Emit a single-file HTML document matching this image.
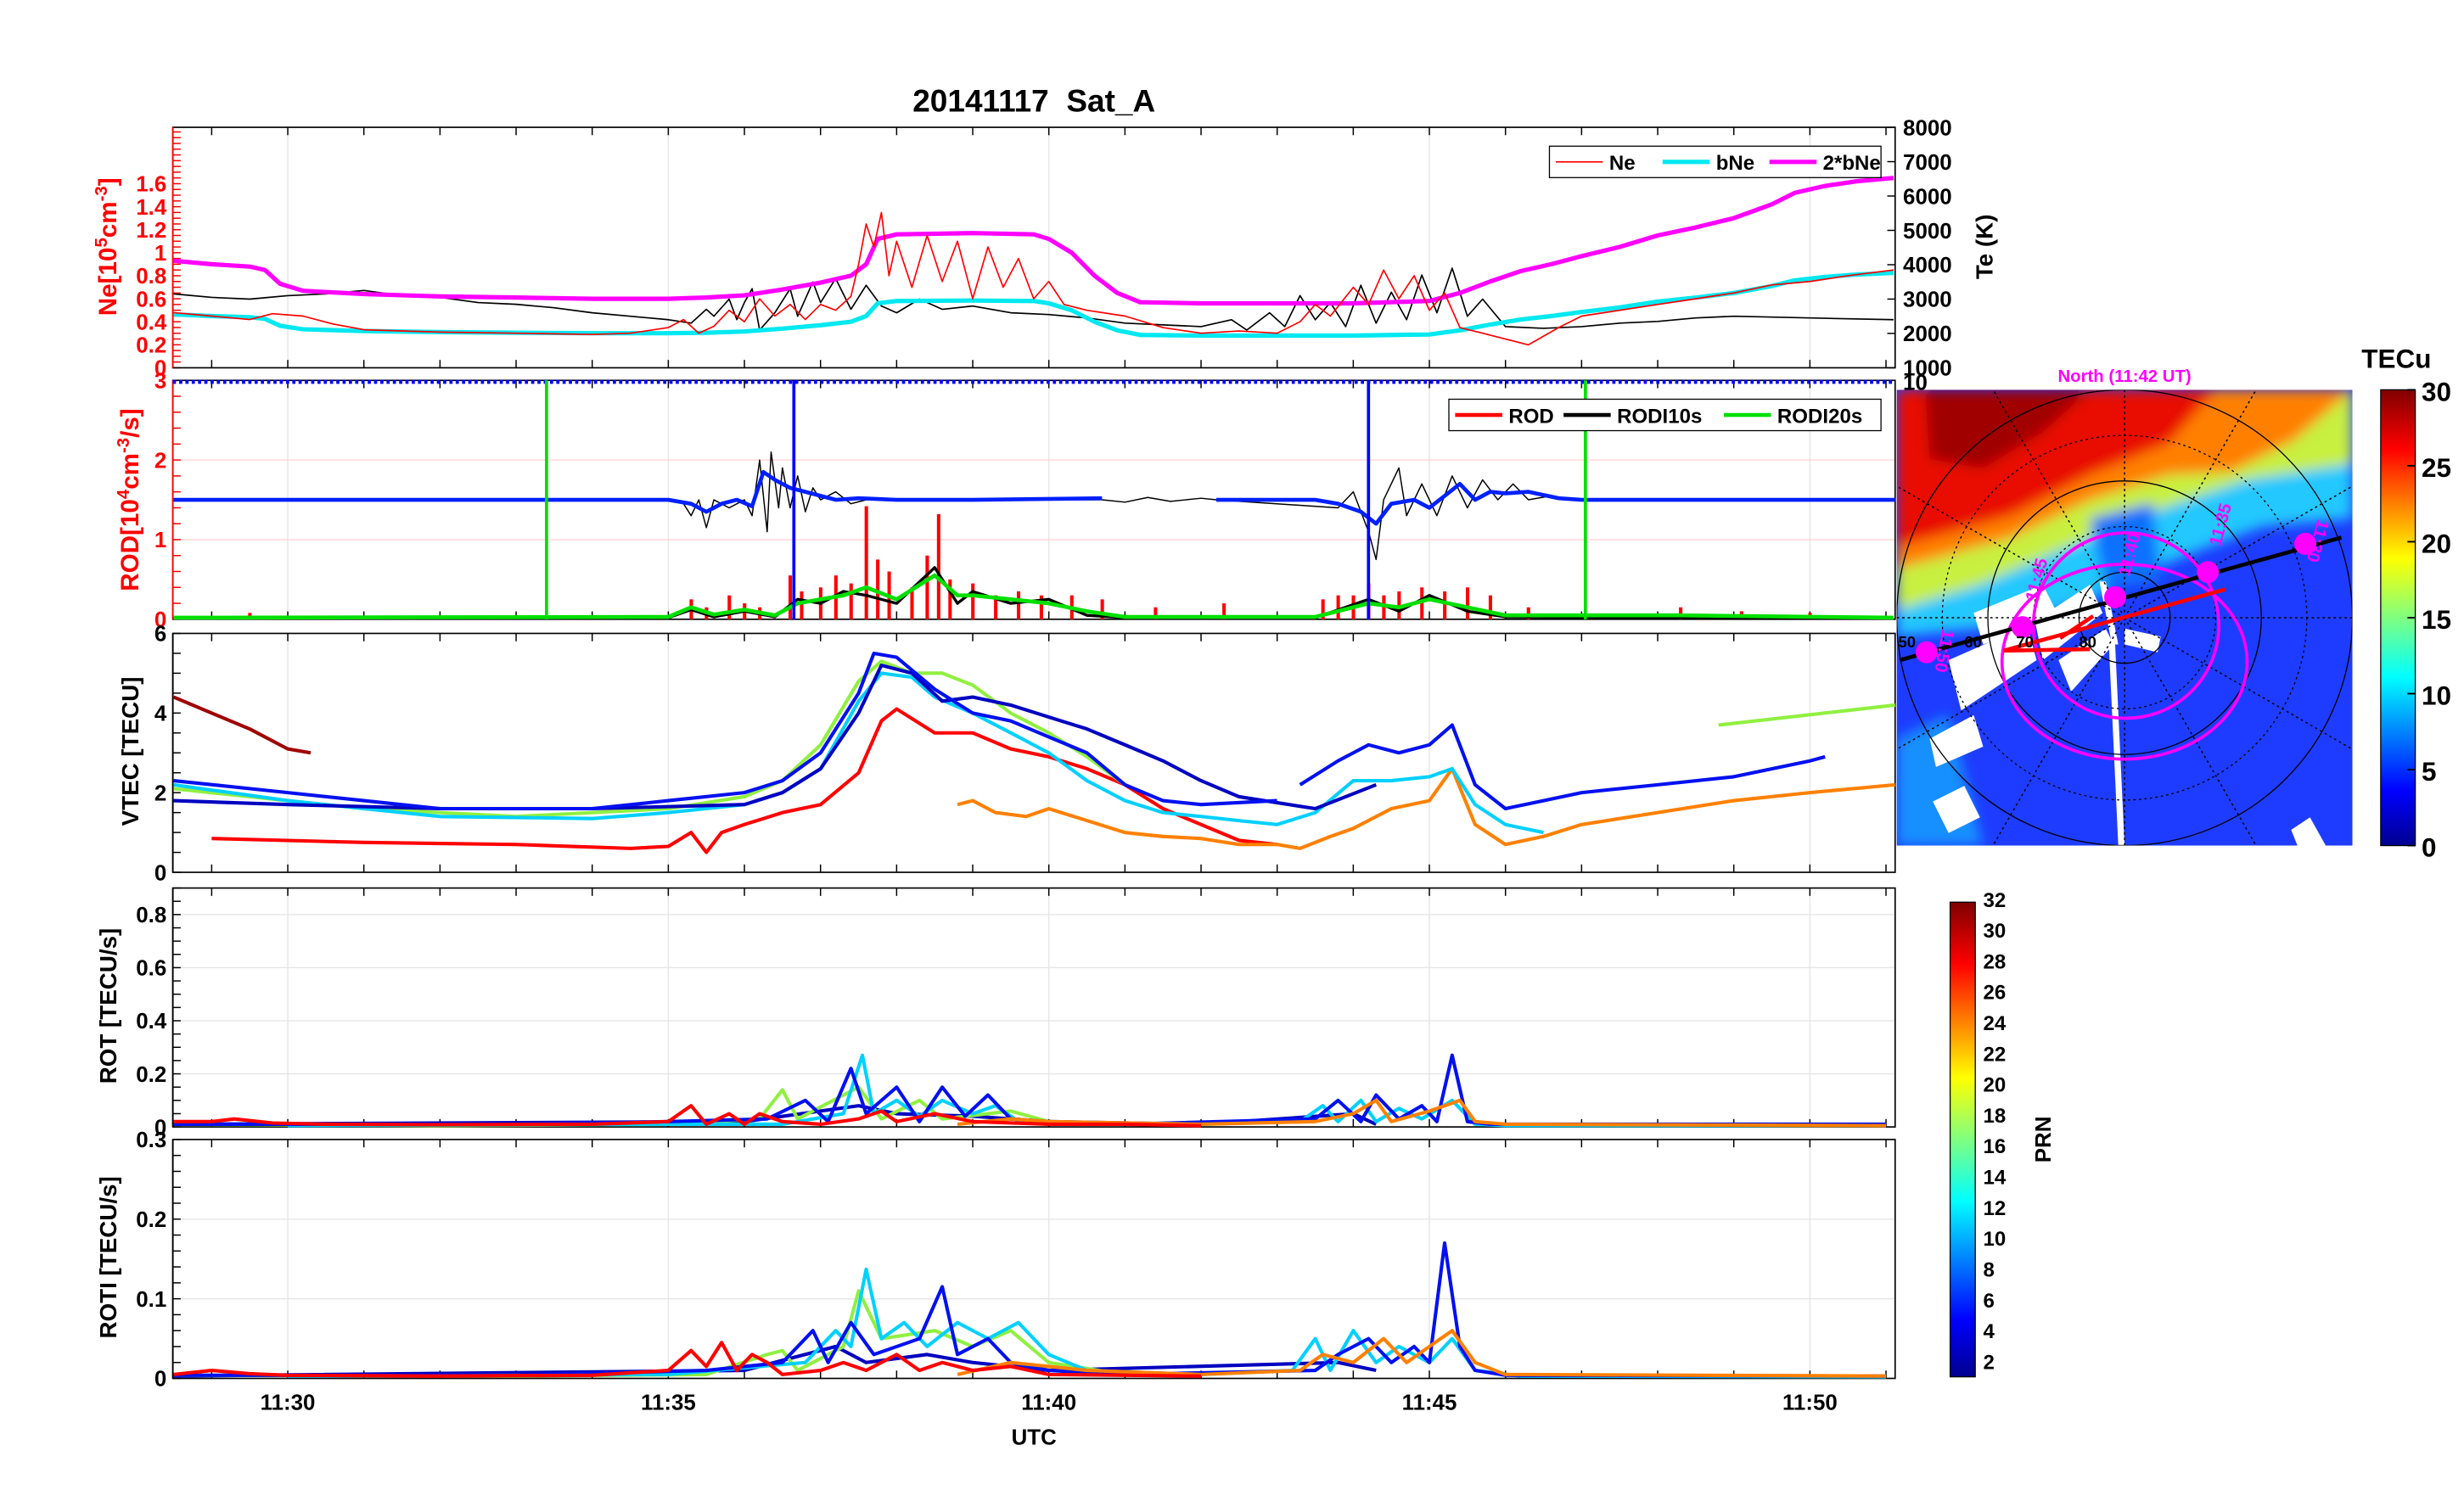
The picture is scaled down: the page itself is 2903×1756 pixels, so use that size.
<!DOCTYPE html>
<html><head><meta charset="utf-8"><style>
html,body{margin:0;padding:0;background:#fff;}
svg{display:block;font-family:"Liberation Sans",Arial,sans-serif;font-weight:bold;}
</style></head><body>
<svg id="fig" width="2903" height="1756" viewBox="0 0 1568 948" preserveAspectRatio="none" xmlns="http://www.w3.org/2000/svg">
<defs>
<linearGradient id="jet" x1="0" y1="1" x2="0" y2="0">
<stop offset="0" stop-color="#00008f"/><stop offset="0.12" stop-color="#0000ff"/><stop offset="0.37" stop-color="#00ffff"/><stop offset="0.5" stop-color="#80ff80"/><stop offset="0.63" stop-color="#ffff00"/><stop offset="0.87" stop-color="#ff0000"/><stop offset="1" stop-color="#800000"/>
</linearGradient>
<clipPath id="mapclip"><rect x="1207" y="248" width="290" height="290"/></clipPath>
<filter id="blur"><feGaussianBlur stdDeviation="4"/></filter>
</defs>
<text x="658" y="71" text-anchor="middle" font-size="20" xml:space="preserve">20141117&#160;&#160;Sat_A</text>
<g id="plots"></g>
<g id="map" clip-path="url(#mapclip)">
 <rect x="1207" y="248" width="290" height="290" fill="#1e3cff"/>
 <g filter="url(#blur)">
  <polygon points="1207,248 1497,248 1497,330 1440,335 1400,350 1370,362 1330,382 1280,398 1207,405" fill="#20c8ff"/>
  <polygon points="1207,248 1497,248 1497,295 1430,305 1380,322 1330,342 1260,372 1207,388" fill="#c8f040"/>
  <polygon points="1207,248 1497,248 1460,280 1420,300 1380,302 1330,318 1280,342 1207,362" fill="#ff8000"/>
  <polygon points="1207,248 1410,248 1380,282 1330,302 1280,328 1207,348" fill="#e81000"/>
  <polygon points="1225,248 1330,248 1300,275 1262,298 1228,292" fill="#a00000"/>
  <polygon points="1207,470 1240,455 1262,538 1207,538" fill="#1890ff"/>
  <polygon points="1330,330 1370,320 1375,370 1340,375" fill="#1070ff"/>
 </g>
 <g fill="#fff">
  <polygon points="1256,390 1300,372 1310,392 1262,410"/>
  <polygon points="1240,420 1290,398 1296,420 1248,452"/>
  <polygon points="1228,470 1256,455 1262,475 1232,488"/>
  <polygon points="1295,395 1330,372 1338,390 1300,420"/>
  <polygon points="1310,420 1340,400 1345,410 1318,440"/>
  <polygon points="1340,370 1348,410 1344,410 1336,370"/>
  <polygon points="1346,410 1352,538 1348,538 1342,410"/>
  <polygon points="1352,400 1375,405 1373,415 1352,410"/>
  <polygon points="1230,510 1250,500 1260,520 1240,530"/>
  <polygon points="1458,528 1470,520 1480,538 1462,538"/>
 </g>
 <g fill="none" stroke="#000" stroke-width="0.7">
  <circle cx="1352" cy="393" r="145"/><circle cx="1352" cy="393" r="87"/><circle cx="1352" cy="393" r="29"/>
  <circle cx="1352" cy="393" r="116" stroke-dasharray="1.5 2"/><circle cx="1352" cy="393" r="58" stroke-dasharray="1.5 2"/>
 </g>
 <g id="meridians" stroke="#000" stroke-width="0.8" stroke-dasharray="1.5 2"></g>
 <ellipse cx="1353" cy="398" rx="59" ry="59" fill="none" stroke="#ff00ff" stroke-width="2"/>
 <ellipse cx="1352" cy="421" rx="78" ry="62" fill="none" stroke="#ff00ff" stroke-width="2"/>
 <line x1="1209" y1="420" x2="1490" y2="342" stroke="#000" stroke-width="2.5"/>
 <g stroke="#ff0000" stroke-width="2.5">
  <line x1="1275" y1="414" x2="1416" y2="375"/><line x1="1311" y1="406" x2="1332" y2="392"/><line x1="1275" y1="414" x2="1330" y2="413"/>
 </g>
 <g fill="#ff00ff">
  <circle cx="1226" cy="415" r="7"/><circle cx="1287" cy="399" r="7"/><circle cx="1346" cy="380" r="7"/><circle cx="1405" cy="364" r="7"/><circle cx="1467" cy="346" r="7"/>
 </g>
 <g fill="#ff00ff" font-size="11">
  <text x="1236" y="400" transform="rotate(100 1236 400)">11:50</text>
  <text x="1296" y="383" transform="rotate(-75 1296 383)">11:45</text>
  <text x="1355" y="367" transform="rotate(-75 1355 367)">11:40</text>
  <text x="1413" y="348" transform="rotate(-75 1413 348)">11:35</text>
  <text x="1475" y="330" transform="rotate(105 1475 330)">11:30</text>
 </g>
 <g font-size="10" fill="#000">
  <text x="1208" y="412">50</text><text x="1250" y="412">60</text><text x="1283" y="412">70</text><text x="1323" y="412">80</text>
 </g>
</g>
<text x="1352" y="243" text-anchor="middle" font-size="11" fill="#ff00ff">North (11:42 UT)</text>
<rect x="1515" y="248" width="22" height="290" fill="url(#jet)" stroke="#000" stroke-width="0.7"/>
<text x="1525" y="234" text-anchor="middle" font-size="17">TECu</text>
<g id="tecticks" font-size="17"></g>
<rect x="1241" y="574" width="16" height="302" fill="url(#jet)" stroke="#000" stroke-width="0.7"/>
<g id="prnticks" font-size="13"></g>
<text x="1305" y="725" text-anchor="middle" font-size="14" transform="rotate(-90 1305 725)">PRN</text>
<text x="658" y="919" text-anchor="middle" font-size="14">UTC</text>
</svg>
<script>
// ---------- DATA ----------
const xTicks = [30, 35, 40, 45, 50];
const xTickLabels = ["11:30", "11:35", "11:40", "11:45", "11:50"];
const neRed = [[28.5,.48],[29,.45],[29.5,.42],[29.8,.47],[30.2,.45],[30.6,.38],[31,.33],[32,.31],[33,.30],[34,.29],[34.5,.3],[35,.35],[35.2,.42],[35.4,.3],[35.6,.36],[35.8,.5],[36,.4],[36.2,.6],[36.4,.45],[36.6,.55],[36.8,.42],[37,.55],[37.2,.5],[37.4,.62],[37.5,.9],[37.6,1.25],[37.7,1.05],[37.8,1.35],[37.9,.8],[38,1.1],[38.2,.7],[38.4,1.15],[38.6,.75],[38.8,1.1],[39,.6],[39.2,1.05],[39.4,.7],[39.6,.95],[39.8,.6],[40,.75],[40.2,.55],[40.5,.5],[41,.45],[41.5,.35],[42,.3],[42.5,.32],[43,.3],[43.3,.4],[43.5,.55],[43.7,.45],[44,.7],[44.2,.55],[44.4,.85],[44.6,.6],[44.8,.8],[45,.5],[45.2,.65],[45.4,.35],[45.7,.3],[46,.25],[46.3,.2],[46.7,.35],[47,.45],[47.5,.5],[48,.55],[48.5,.6],[49,.65],[49.5,.72],[50,.75],[50.5,.8],[51.1,.85]];
const bNe = [[28.5,.465],[29,.45],[29.5,.44],[29.7,.425],[29.9,.365],[30.2,.335],[31,.32],[32,.31],[33,.305],[34,.3],[35,.3],[35.5,.305],[36,.315],[36.5,.34],[37,.37],[37.4,.4],[37.6,.45],[37.75,.56],[38,.58],[39,.585],[39.8,.58],[40,.56],[40.3,.5],[40.6,.4],[40.9,.325],[41.2,.285],[42,.28],[44,.28],[45,.29],[45.4,.325],[45.8,.375],[46.2,.42],[46.6,.45],[47,.485],[47.5,.525],[48,.575],[48.5,.61],[49,.65],[49.5,.71],[49.8,.76],[50.2,.79],[50.6,.81],[51.1,.825]];
const teBlack = [[28.5,3150],[29,3050],[29.5,3000],[30,3100],[30.5,3150],[31,3250],[31.5,3100],[32,3050],[32.5,2900],[33,2850],[33.5,2750],[34,2600],[34.5,2500],[35,2400],[35.3,2300],[35.5,2700],[35.6,2500],[35.8,3000],[35.9,2400],[36,2900],[36.1,3300],[36.2,2100],[36.4,2600],[36.6,3300],[36.7,2500],[36.9,3500],[37,2900],[37.2,3600],[37.4,2700],[37.6,3400],[37.8,2800],[38,2600],[38.3,3000],[38.6,2700],[39,2800],[39.5,2600],[40,2550],[40.5,2450],[41,2300],[41.5,2250],[42,2200],[42.4,2400],[42.6,2100],[42.9,2600],[43.1,2200],[43.3,3100],[43.5,2400],[43.7,2900],[43.9,2200],[44.1,3400],[44.3,2300],[44.5,3200],[44.7,2400],[44.9,3700],[45.1,2600],[45.3,3900],[45.5,2500],[45.7,3000],[46,2200],[46.5,2150],[47,2200],[47.5,2300],[48,2350],[48.5,2450],[49,2500],[50,2450],[51.1,2400]];
const rodiBlue1 = [[28.5,1.5],[35,1.5],[35.3,1.45],[35.5,1.35],[35.7,1.45],[35.9,1.5],[36.1,1.42],[36.25,1.85],[36.4,1.75],[36.6,1.65],[36.8,1.6],[37,1.55],[37.2,1.5],[37.5,1.52],[38,1.5],[39,1.5],[40.7,1.52]];
const rodiBlue2 = [[42.2,1.5],[43.5,1.5],[43.8,1.45],[44.1,1.35],[44.3,1.2],[44.5,1.45],[44.8,1.5],[45,1.4],[45.2,1.55],[45.4,1.7],[45.6,1.5],[45.8,1.6],[46,1.58],[46.3,1.6],[46.7,1.52],[47,1.5],[51.12,1.5]];
const rodiBlack = [[35.2,1.45],[35.3,1.3],[35.4,1.5],[35.5,1.15],[35.6,1.5],[35.8,1.4],[36,1.5],[36.1,1.3],[36.2,2.0],[36.3,1.1],[36.35,2.1],[36.45,1.4],[36.5,1.9],[36.6,1.4],[36.7,1.8],[36.8,1.35],[36.9,1.65],[37,1.5],[37.2,1.6],[37.4,1.45],[37.6,1.5],[40.7,1.5],[41,1.47],[41.3,1.53],[41.6,1.48],[42,1.52],[42.2,1.5],[43.8,1.4],[44,1.6],[44.2,1.1],[44.3,0.75],[44.4,1.5],[44.6,1.9],[44.7,1.3],[44.9,1.7],[45.1,1.3],[45.3,1.8],[45.5,1.4],[45.7,1.75],[45.9,1.5],[46.1,1.7],[46.3,1.5],[46.6,1.55]];
const rodTimes = [29.5,33.2,35.3,35.5,35.8,36.0,36.2,36.6,36.75,37.0,37.2,37.4,37.6,37.75,37.9,38.2,38.4,38.55,38.7,39,39.3,39.6,39.9,40.3,40.7,41.4,42.3,43.6,43.8,44.0,44.2,44.4,44.6,44.9,45.2,45.5,45.8,46.3,48.3,49.1,50];
const rodValues = [.08,.05,.25,.15,.3,.2,.15,.55,.35,.4,.55,.45,1.42,.75,.6,.4,.8,1.32,.5,.45,.3,.35,.3,.3,.25,.15,.2,.25,.3,.3,.45,.3,.35,.4,.35,.4,.3,.15,.15,.1,.08];
const rodi20 = [[28.5,.02],[35,.03],[35.3,.15],[35.6,.06],[36,.12],[36.4,.05],[36.7,.2],[37.0,.25],[37.3,.3],[37.6,.4],[38,.25],[38.5,.55],[38.8,.3],[39,.3],[39.5,.25],[40,.2],[40.5,.1],[41,.03],[43.5,.03],[44.2,.2],[44.6,.15],[45,.25],[45.5,.15],[46,.05],[48.3,.05],[51.1,.02]];
const rodi10 = [[28.5,.01],[35,.02],[35.3,.12],[35.6,.03],[36,.1],[36.4,.03],[36.7,.25],[37.0,.2],[37.3,.35],[37.6,.3],[38,.2],[38.5,.65],[38.8,.2],[39,.35],[39.5,.2],[40,.25],[40.5,.05],[41,.02],[43.5,.02],[44.2,.25],[44.6,.1],[45,.3],[45.5,.1],[46,.03],[51.1,.01]];
const vtecSeries = [
 {c:"#a00000", d:[[28.5,4.4],[29,4.0],[29.5,3.6],[30,3.1],[30.3,3.0]]},
 {c:"#ff0000", d:[[29,.85],[31,.75],[33,.7],[34.5,.6],[35,.65],[35.3,1.0],[35.5,.5],[35.7,1.0],[36,1.2],[36.5,1.5],[37,1.7],[37.5,2.5],[37.8,3.8],[38,4.1],[38.5,3.5],[39,3.5],[39.5,3.1],[40,2.9],[40.5,2.6],[41,2.2],[41.5,1.6],[42,1.2],[42.5,.8],[43,.7]]},
 {c:"#ff8000", d:[[38.8,1.7],[39,1.8],[39.3,1.5],[39.7,1.4],[40,1.6],[40.5,1.3],[41,1.0],[41.5,.9],[42,.85],[42.5,.7],[43,.7],[43.3,.6],[43.7,.9],[44,1.1],[44.5,1.6],[45,1.8],[45.3,2.6],[45.6,1.2],[46,.7],[46.5,.9],[47,1.2],[48,1.5],[49,1.8],[50,2.0],[51.12,2.2]]},
 {c:"#90f040", d:[[28.5,2.1],[30,1.8],[31,1.6],[33,1.4],[35,1.6],[36,1.9],[36.5,2.3],[37,3.2],[37.5,4.8],[37.8,5.3],[38.2,5.0],[38.6,5.0],[39,4.7],[39.5,4.0],[40,3.5],[40.5,2.9],[41,2.2]]},
 {c:"#90f040", d:[[48.8,3.7],[51.12,4.2]]},
 {c:"#00d0ff", d:[[28.5,2.2],[30,1.8],[31,1.6],[32,1.4],[34,1.35],[35,1.5],[36,1.7],[36.5,2.0],[37,2.6],[37.5,4.3],[37.8,5.0],[38.2,4.9],[38.5,4.4],[39,4.0],[39.5,3.5],[40,3.0],[40.5,2.3],[41,1.8],[41.5,1.5],[42,1.4],[42.5,1.3],[43,1.2],[43.5,1.5],[44,2.3],[44.5,2.3],[45,2.4],[45.3,2.6],[45.6,1.7],[46,1.2],[46.5,1.0]]},
 {c:"#0000c0", d:[[28.5,1.8],[30,1.7],[32,1.6],[34,1.6],[35,1.65],[36,1.7],[36.5,2.0],[37,2.6],[37.5,4.0],[37.8,5.2],[38.2,5.0],[38.6,4.3],[39,4.4],[39.5,4.2],[40,3.9],[40.5,3.6],[41,3.2],[41.5,2.8],[42,2.3],[42.5,1.9],[43.5,1.6],[44.3,2.2]]},
 {c:"#0010f0", d:[[28.5,2.3],[30,2.0],[31,1.8],[32,1.6],[34,1.6],[35,1.8],[36,2.0],[36.5,2.3],[37,3.0],[37.5,4.5],[37.7,5.5],[38,5.4],[38.5,4.6],[39,4.0],[39.5,3.8],[40,3.4],[40.5,3.0],[41,2.2],[41.5,1.8],[42,1.7],[43,1.8]]},
 {c:"#0010f0", d:[[43.3,2.2],[43.8,2.8],[44.2,3.2],[44.6,3.0],[45,3.2],[45.3,3.7],[45.6,2.2],[46,1.6],[46.5,1.8],[47,2.0],[48,2.2],[49,2.4],[50,2.8],[50.2,2.9]]}
];
const rotSeries = [
 {c:"#0000c0", d:[[28.5,.01],[36,.02],[37.5,.08],[38,.05],[39,.04],[40,.02],[42,.01],[44,.05],[44.3,.01]]},
 {c:"#90f040", d:[[28.5,.01],[32,.005],[35,.01],[36.2,.03],[36.5,.14],[36.7,.03],[37.5,.15],[37.8,.03],[38.3,.1],[38.6,.03],[39.5,.06],[40,.02],[41,.01]]},
 {c:"#00d0ff", d:[[30,.005],[35,.01],[36.5,.01],[37.3,.05],[37.55,.27],[37.7,.05],[38,.1],[38.3,.04],[38.6,.1],[39,.05],[39.3,.08],[39.6,.02],[40,.01],[42,.01],[43.3,.02],[43.6,.08],[43.8,.02],[44.1,.1],[44.3,.02],[44.6,.07],[44.9,.03],[45.3,.1],[45.6,.01],[46,.005],[51,.005]]},
 {c:"#0010f0", d:[[28.5,.01],[30,.01],[33,.01],[35,.02],[36.3,.03],[36.8,.1],[37.1,.02],[37.4,.22],[37.6,.05],[38,.15],[38.3,.02],[38.6,.15],[38.9,.04],[39.2,.12],[39.5,.03],[40,.02],[41,.01],[43.5,.03],[43.8,.1],[44.1,.02],[44.3,.12],[44.6,.03],[44.9,.08],[45.1,.02],[45.3,.27],[45.5,.02],[45.8,.01],[51,.01]]},
 {c:"#ff8000", d:[[38.8,.01],[39.5,.03],[40,.02],[42,.01],[43.5,.02],[44,.05],[44.3,.1],[44.5,.02],[45,.06],[45.4,.1],[45.6,.02],[46,.01],[51,.005]]},
 {c:"#ff0000", d:[[28.5,.02],[29,.02],[29.3,.03],[29.8,.015],[30.5,.01],[32,.008],[34,.01],[35,.02],[35.3,.08],[35.5,.01],[35.8,.05],[36,.01],[36.2,.05],[36.5,.02],[37,.01],[37.5,.03],[37.8,.06],[38,.02],[38.5,.05],[39,.02],[40,.01],[41,.01],[42,.005]]}
];
const rotiSeries = [
 {c:"#0000c0", d:[[28.5,.003],[36,.01],[37.2,.04],[37.6,.02],[38.4,.03],[39,.02],[40,.01],[43.8,.02],[44.3,.01]]},
 {c:"#90f040", d:[[28.5,.004],[33,.003],[35.5,.005],[36.3,.03],[36.5,.035],[36.7,.01],[37.3,.04],[37.5,.11],[37.8,.05],[38.5,.06],[39,.04],[39.5,.06],[40,.02],[41,.005]]},
 {c:"#00d0ff", d:[[30,.003],[35,.005],[36.8,.02],[37.2,.06],[37.4,.04],[37.6,.137],[37.8,.05],[38.1,.07],[38.4,.04],[38.8,.07],[39.2,.05],[39.6,.07],[40,.03],[40.5,.01],[42,.005],[43.2,.01],[43.5,.05],[43.7,.01],[44,.06],[44.3,.02],[44.6,.04],[45,.02],[45.3,.05],[45.6,.01],[46.2,.003],[51,.002]]},
 {c:"#0010f0", d:[[28.5,.004],[33,.004],[35.5,.01],[36.5,.02],[36.9,.06],[37.1,.02],[37.4,.07],[37.7,.03],[38.3,.05],[38.6,.115],[38.8,.03],[39.2,.05],[39.5,.02],[40,.01],[41,.005],[43.5,.01],[43.8,.03],[44.2,.05],[44.5,.02],[44.8,.04],[45,.02],[45.2,.17],[45.4,.04],[45.6,.01],[46,.004],[51,.003]]},
 {c:"#ff8000", d:[[38.8,.005],[39.5,.02],[40.5,.01],[42,.005],[43.3,.01],[43.6,.03],[44,.02],[44.4,.05],[44.7,.02],[45,.04],[45.3,.06],[45.6,.02],[46,.005],[51,.003]]},
 {c:"#ff0000", d:[[28.5,.005],[29,.01],[29.5,.006],[30,.004],[32,.003],[34,.004],[35,.01],[35.3,.035],[35.5,.015],[35.7,.045],[35.9,.01],[36.1,.03],[36.3,.02],[36.5,.005],[37,.01],[37.3,.02],[37.6,.01],[38,.03],[38.3,.01],[38.6,.02],[39,.01],[39.5,.015],[40,.005],[42,.003]]}
];
const markerTimesGreen = [33.4, 47.05];
const markerTimesBlue = [36.65, 44.2];
const tecLabels = [0,5,10,15,20,25,30];
const prnLabels = [2,4,6,8,10,12,14,16,18,20,22,24,26,28,30,32];

// ---------- DRAW ----------
const NS="http://www.w3.org/2000/svg";
const X0=110, X1=1206, TMIN=28.49, TMAX=51.12;
function sx(t){return X0+(t-TMIN)/(TMAX-TMIN)*(X1-X0);}
const root=document.getElementById('plots');
function el(tag,attrs,parent){const e=document.createElementNS(NS,tag);for(const k in attrs)e.setAttribute(k,attrs[k]);(parent||root).appendChild(e);return e;}
function txt(s,attrs,parent){const e=el('text',attrs,parent);e.textContent=s;return e;}
function makeAxis(y0,y1,ymin,ymax){return {y0,y1,sy:v=>y1-(v-ymin)/(ymax-ymin)*(y1-y0)};}
function line(ax,pts,color,w,name,sy){
  const f=sy||ax.sy;
  const d=pts.map((p,i)=>(i?'L':'M')+sx(p[0]).toFixed(1)+','+f(p[1]).toFixed(1)).join('');
  const p=el('path',{d:d,fill:'none',stroke:color,'stroke-width':w,'stroke-linejoin':'round'});
  
  
  return p;
}
function frame(ax,name,opts){
  const g=el('g',{});
  
  
  for(const t of xTicks) el('line',{x1:sx(t),x2:sx(t),y1:ax.y0,y2:ax.y1,stroke:'#e4e4e4','stroke-width':0.7},g);
  if(opts.ygrid) for(const v of opts.ygrid) el('line',{x1:X0,x2:X1,y1:ax.sy(v),y2:ax.sy(v),stroke:opts.gridColor||'#e4e4e4','stroke-width':0.7},g);
  for(let m=29;m<=51;m++){const x=sx(m);el('line',{x1:x,x2:x,y1:ax.y1,y2:ax.y1-5,stroke:'#000','stroke-width':0.8},g);el('line',{x1:x,x2:x,y1:ax.y0,y2:ax.y0+5,stroke:'#000','stroke-width':0.8},g);}
  const lc=opts.color||'#000';
  for(const v of opts.minor){const y=ax.sy(v);el('line',{x1:X0,x2:X0+5,y1:y,y2:y,stroke:lc,'stroke-width':0.8},g);}
  opts.labels.forEach(v=>{txt(String(v),{x:X0-4,y:ax.sy(v)+5,'text-anchor':'end','font-size':14,fill:lc},g);});
  el('rect',{x:X0,y:ax.y0,width:X1-X0,height:ax.y1-ax.y0,fill:'none',stroke:'#000','stroke-width':0.9},g);
  el('line',{x1:X0,x2:X0,y1:ax.y0,y2:ax.y1,stroke:lc,'stroke-width':1},g);
  return g;
}
function range(a,b,s){const r=[];for(let v=a;v<=b+1e-9;v+=s)r.push(+v.toFixed(4));return r;}

// Panel 1
const ax1=makeAxis(81,234,0,2.09);
frame(ax1,'ne-panel',{color:'#ff0000',minor:range(0,2.05,0.05),labels:[0,0.2,0.4,0.6,0.8,1,1.2,1.4,1.6]});
const teSy=v=>234-(v-1000)/7000*(234-81);
line(ax1,teBlack,'#000',0.9,'te-line',teSy);
line(ax1,bNe,'#00e8f0',2.8,'bne-line');
line(ax1,bNe.map(p=>[p[0],2*p[1]]),'#ff00ff',2.8,'two-bne-line');
line(ax1,neRed,'#ff0000',0.9,'ne-line');
[1000,2000,3000,4000,5000,6000,7000,8000].forEach(v=>{const y=teSy(v);el('line',{x1:X1-5,x2:X1,y1:y,y2:y,stroke:'#000','stroke-width':0.8});const t=txt(String(v),{x:1211,y:y+5,'font-size':14});});
txt('Te (K)',{x:1268,y:157,'text-anchor':'middle','font-size':15,transform:'rotate(-90 1268 157)'});
const l1=el('g',{});
el('rect',{x:986,y:93,width:211,height:20,fill:'#fff',stroke:'#000','stroke-width':0.7},l1);
[['Ne','#ff0000',0.9,990],['bNe','#00e8f0',2.8,1058],['2*bNe','#ff00ff',2.8,1126]].forEach(a=>{el('line',{x1:a[3],x2:a[3]+30,y1:103,y2:103,stroke:a[1],'stroke-width':a[2]},l1);txt(a[0],{x:a[3]+34,y:108,'font-size':13},l1);});
const yl1=txt('',{x:74,y:157,'text-anchor':'middle','font-size':16,fill:'#ff0000',transform:'rotate(-90 74 157)'});
yl1.innerHTML='Ne[10<tspan dy="-6" font-size="11">5</tspan><tspan dy="6">cm</tspan><tspan dy="-6" font-size="11">-3</tspan><tspan dy="6">]</tspan>';


// Panel 2
const ax2=makeAxis(242,394,0,3);
frame(ax2,'rod-panel',{color:'#ff0000',minor:range(0,3,0.2),labels:[0,1,2,3],ygrid:[1,2],gridColor:'#ffd0d0'});
el('line',{x1:X0,x2:X1,y1:243,y2:243,stroke:'#0000ff','stroke-width':2.5,'stroke-dasharray':'2 2'});
rodTimes.forEach((t,i)=>{const b=el('rect',{x:sx(t)-1,y:ax2.sy(rodValues[i]),width:2.2,height:ax2.sy(0)-ax2.sy(rodValues[i]),fill:'#ff0000'});});
line(ax2,rodi10,'#000',1.8,'rodi10s-line');
line(ax2,rodi20,'#00e000',2.5,'rodi20s-line');
line(ax2,rodiBlack,'#000',0.8,'rodi-thin-line');
line(ax2,rodiBlue1,'#0020ff',2.5,'rodi-offset-line');
line(ax2,rodiBlue2,'#0020ff',2.5,'rodi-offset-line-2');
markerTimesGreen.forEach(t=>{const m=el('line',{x1:sx(t),x2:sx(t),y1:242,y2:394,stroke:'#00e000','stroke-width':2});});
markerTimesBlue.forEach(t=>{const m=el('line',{x1:sx(t),x2:sx(t),y1:242,y2:394,stroke:'#0000ff','stroke-width':2});});
txt('10',{x:1211,y:248,'font-size':14});
const l2=el('g',{});
el('rect',{x:922,y:254,width:275,height:20,fill:'#fff',stroke:'#000','stroke-width':0.7},l2);
[['ROD','#ff0000',926],['RODI10s','#000',995],['RODI20s','#00e000',1097]].forEach(a=>{el('line',{x1:a[2],x2:a[2]+30,y1:264,y2:264,stroke:a[1],'stroke-width':2.5},l2);txt(a[0],{x:a[2]+34,y:269,'font-size':13},l2);});
const yl2=txt('',{x:88,y:318,'text-anchor':'middle','font-size':16,fill:'#ff0000',transform:'rotate(-90 88 318)'});
yl2.innerHTML='ROD[10<tspan dy="-6" font-size="11">4</tspan><tspan dy="6">cm</tspan><tspan dy="-6" font-size="11">-3</tspan><tspan dy="6">/s]</tspan>';


// Panel 3
const ax3=makeAxis(403,555,0,6);
frame(ax3,'vtec-panel',{minor:range(0,6,0.5),labels:[0,2,4,6]});
vtecSeries.forEach((s,i)=>line(ax3,s.d,s.c,2.2,'vtec-prn-line'));
txt('VTEC [TECU]',{x:88,y:478,'text-anchor':'middle','font-size':15,transform:'rotate(-90 88 478)'});

// Panel 4
const ax4=makeAxis(565,717,0,0.9);
frame(ax4,'rot-panel',{minor:range(0,0.9,0.05),labels:[0,0.2,0.4,0.6,0.8],ygrid:[0.2,0.4,0.6,0.8]});
rotSeries.forEach(s=>line(ax4,s.d,s.c,2.2,'rot-prn-line'));
txt('ROT [TECU/s]',{x:74,y:640,'text-anchor':'middle','font-size':15,transform:'rotate(-90 74 640)'});

// Panel 5
const ax5=makeAxis(725,877,0,0.3);
frame(ax5,'roti-panel',{minor:range(0,0.3,0.02),labels:[0,0.1,0.2,0.3],ygrid:[0.1,0.2]});
rotiSeries.forEach(s=>line(ax5,s.d,s.c,2.2,'roti-prn-line'));
txt('ROTI [TECU/s]',{x:74,y:800,'text-anchor':'middle','font-size':15,transform:'rotate(-90 74 800)'});

xTicks.forEach((t,i)=>{const e=txt(xTickLabels[i],{x:sx(t),y:897,'text-anchor':'middle','font-size':14});});

const tg=document.getElementById('tecticks');
tecLabels.forEach(v=>{const y=538-v/30*290;el('line',{x1:1532,x2:1537,y1:y,y2:y,stroke:'#000'},tg);txt(String(v),{x:1541,y:y+7,'font-size':17},tg);});
const pg=document.getElementById('prnticks');
prnLabels.forEach(v=>{txt(String(v),{x:1262,y:874-(v-2)/30*294-3,'font-size':13},pg);});
const mg=document.getElementById('meridians');
for(let a=0;a<360;a+=30){const r=a*Math.PI/180;el('line',{x1:1352,y1:393,x2:1352+210*Math.cos(r),y2:393+210*Math.sin(r)},mg);}
</script>
</body></html>
